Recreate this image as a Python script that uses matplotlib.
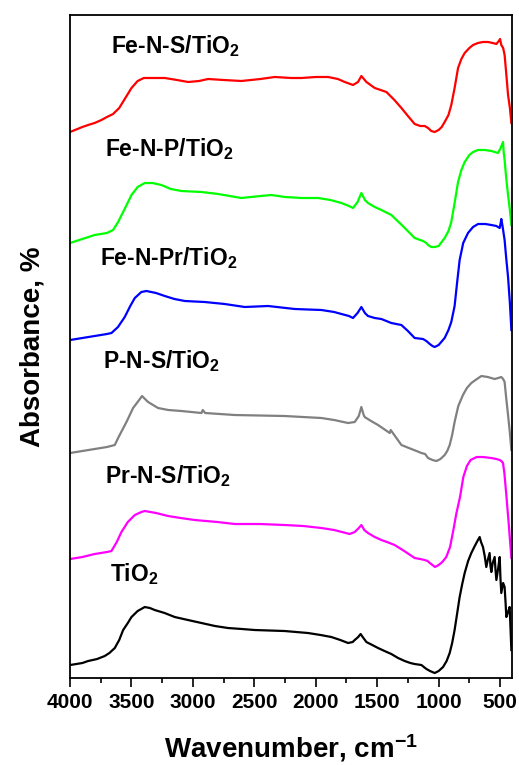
import numpy as np
import matplotlib.pyplot as plt

plt.rcParams['font.family'] = ['Liberation Sans', 'DejaVu Sans']
plt.rcParams['font.weight'] = 'bold'
plt.rcParams['mathtext.default'] = 'regular'

# Spectra (wavenumber in cm-1, stacked absorbance in a.u.)
wn_fens = [4000, 3900, 3853, 3800, 3745, 3700, 3650, 3600, 3550, 3500, 3450, 3400, 3329, 3229,
           3130, 3039, 2950, 2877, 2750, 2606, 2450, 2334, 2200, 2117, 2000, 1900, 1820, 1764,
           1697, 1656, 1629, 1588, 1520, 1425, 1360, 1303, 1250, 1195, 1150, 1113, 1086, 1060,
           1032, 1000, 975, 951, 920, 897, 870, 842, 815, 788, 750, 720, 680, 640, 598, 560,
           530, 510, 500, 490, 475, 463, 450, 435, 420, 408]
ab_fens = [546, 551, 553, 555, 558, 561, 564, 570, 580, 590, 597, 600, 600, 600,
           598, 596, 597, 599, 598, 597, 599, 601, 600, 600, 601, 601, 599, 596,
           593, 596, 602, 596, 590, 586, 578, 570, 562, 554, 552, 552, 550, 547,
           546, 548, 551, 556, 563, 573, 590, 610, 619, 625, 630, 633, 635, 636, 636, 635,
           634, 637, 639, 633, 630, 623, 605, 583, 570, 555]

wn_fenp = [4000, 3900, 3800, 3700, 3650, 3609, 3560, 3500, 3450, 3392, 3330, 3256, 3180, 3093,
           2930, 2795, 2606, 2450, 2361, 2250, 2117, 1981, 1880, 1791, 1730, 1697, 1660, 1629,
           1600, 1575, 1520, 1466, 1385, 1300, 1195, 1150, 1127, 1100, 1086, 1060, 1032, 1000,
           951, 920, 897, 870, 842, 815, 788, 750, 720, 680, 625, 570, 517, 495, 476, 470,
           463, 450, 435, 420, 408]
ab_fenp = [435, 439, 443, 445, 448, 456, 468, 483, 491, 495, 495, 493, 489, 487,
           486, 484, 480, 482, 483, 481, 480, 480, 478, 475, 472, 470, 476, 485,
           478, 475, 471, 468, 463, 453, 440, 438, 437, 435, 433, 431, 431, 432,
           440, 447, 456, 475, 496, 508, 516, 523, 526, 528, 528, 527, 525, 530, 536, 525,
           518, 500, 483, 468, 453]

wn_fenpr = [4000, 3900, 3800, 3700, 3663, 3610, 3555, 3510, 3473, 3420, 3378, 3300, 3229, 3150,
            3066, 2904, 2741, 2578, 2388, 2171, 1954, 1850, 1791, 1730, 1697, 1660, 1629, 1600,
            1575, 1520, 1466, 1385, 1303, 1250, 1195, 1127, 1100, 1072, 1050, 1032, 1000, 951,
            920, 897, 870, 850, 829, 800, 761, 720, 679, 620, 571, 530, 503, 495, 490, 480,
            463, 450, 435, 420, 408]
ab_fenpr = [338, 340, 342, 344, 345, 351, 361, 372, 380, 386, 387, 385, 382, 379,
            377, 376, 374, 371, 372, 369, 368, 366, 364, 362, 360, 365, 371, 365,
            362, 360, 359, 355, 353, 347, 340, 339, 337, 334, 332, 331, 333, 340,
            348, 356, 372, 395, 418, 435, 445, 451, 454, 454, 453, 452, 450, 455, 459, 452,
            438, 420, 401, 375, 348]

wn_pns = [4000, 3900, 3800, 3700, 3636, 3609, 3575, 3541, 3487, 3450, 3414, 3390, 3365, 3284,
          3200, 3093, 2930, 2920, 2900, 2660, 2253, 1954, 1850, 1737, 1683, 1650, 1629, 1610,
          1602, 1550, 1493, 1398, 1390, 1303, 1222, 1180, 1140, 1110, 1086, 1050, 1018, 985,
          951, 930, 910, 890, 870, 840, 802, 770, 734, 700, 652, 600, 544, 515, 490, 475,
          463, 450, 435, 420, 408]
ab_pns = [225, 227, 229, 231, 233, 240, 248, 256, 270, 276, 282, 279, 276, 270,
          268, 267, 265, 268, 265, 263, 262, 260, 258, 255, 256, 262, 271, 263,
          261, 257, 253, 245, 248, 233, 229, 227, 225, 224, 220, 218, 217, 219,
          223, 227, 233, 243, 256, 272, 283, 290, 295, 298, 302, 301, 299, 300, 301, 299,
          296, 280, 263, 245, 228]

wn_prns = [4000, 3900, 3800, 3700, 3663, 3620, 3582, 3530, 3473, 3420, 3392, 3300, 3202, 3100,
           2985, 2800, 2660, 2450, 2253, 2100, 1954, 1850, 1724, 1683, 1650, 1629, 1605, 1575,
           1520, 1466, 1420, 1358, 1280, 1195, 1150, 1113, 1090, 1072, 1050, 1030, 1000, 970,
           938, 907, 880, 855, 826, 799, 770, 740, 690, 640, 571, 530, 503, 490, 476, 465,
           449, 430, 408]
ab_prns = [119, 121, 124, 126, 127, 136, 146, 156, 163, 166, 167, 165, 162, 160,
           158, 156, 154, 154, 153, 152, 150, 148, 144, 146, 150, 153, 148, 145,
           141, 138, 136, 133, 127, 120, 119, 118, 117, 115, 113, 111, 113, 116,
           121, 131, 148, 165, 181, 201, 212, 218, 221, 221, 220, 219, 218, 217, 215, 205,
           183, 155, 120]

wn_tio2 = [4000, 3900, 3853, 3780, 3718, 3680, 3636, 3600, 3568, 3530, 3500, 3450, 3392, 3350,
           3311, 3230, 3148, 3040, 2930, 2820, 2714, 2600, 2497, 2253, 2063, 1960, 1873, 1800,
           1737, 1700, 1683, 1655, 1635, 1612, 1588, 1540, 1493, 1440, 1385, 1330, 1276, 1230,
           1195, 1140, 1120, 1099, 1070, 1032, 1000, 964, 935, 910, 890, 870, 850, 829,
           808, 788, 760, 734, 710, 693, 680, 666, 655, 639, 625, 612, 600, 585, 578, 571,
           560, 544, 537, 530, 515, 503, 497, 490, 475, 463, 455, 449, 435, 422, 415, 408]
ab_tio2 = [13, 15, 17, 19, 22, 25, 30, 38, 48, 55, 61, 67, 71, 70,
           68, 65, 61, 58, 55, 52, 50, 49, 48, 47, 45, 43, 41, 38,
           35, 36, 38, 41, 44, 40, 36, 33, 30, 27, 24, 20, 17, 15,
           14, 13, 11, 9, 7, 5, 7, 11, 17, 25, 35, 48, 64, 81,
           94, 105, 117, 125, 131, 135, 138, 141, 136, 131, 122, 111, 118, 125, 112, 106,
           115, 121, 108, 98, 110, 121, 100, 85, 95, 91, 75, 61, 66, 71, 50, 28]

names = [r'Fe-N-S/TiO$_2$', r'Fe-N-P/TiO$_2$', r'Fe-N-Pr/TiO$_2$',
         r'P-N-S/TiO$_2$', r'Pr-N-S/TiO$_2$', r'TiO$_2$']
colors = ['#ff0000', '#00ff00', '#0000ff', '#808080', '#ff00ff', '#000000']
spectra = [(wn_fens, ab_fens), (wn_fenp, ab_fenp), (wn_fenpr, ab_fenpr),
           (wn_pns, ab_pns), (wn_prns, ab_prns), (wn_tio2, ab_tio2)]
label_x = [3669, 3713, 3753, 3731, 3718, 3677]
label_y = [625, 522, 413, 310, 195, 97]

fig = plt.figure(figsize=(5.19, 7.65), dpi=100)
ax = fig.add_axes([0.135, 0.1137, 0.851, 0.8667])

for (w, a), c in zip(spectra, colors):
    ax.plot(w, a, color=c, linewidth=1.6)

for n, lx, ly in zip(names, label_x, label_y):
    ax.text(lx, ly, n, fontsize=16.5, fontweight='bold', ha='left', va='baseline')

ax.set_xlim(4000, 405)
ax.set_ylim(0, 663)
ax.set_xticks([4000, 3500, 3000, 2500, 2000, 1500, 1000, 500])
ax.set_xticks(np.arange(3750, 400, -500), minor=True)
ax.set_yticks([])
ax.tick_params(axis='x', which='major', direction='out', length=6.5, width=1.2,
               labelsize=15, pad=4)
ax.tick_params(axis='x', which='minor', direction='out', length=3.7, width=1.2)
for lbl in ax.get_xticklabels():
    lbl.set_fontweight('bold')
for s in ax.spines.values():
    s.set_linewidth(1.3)

ax.set_xlabel('Wavenumber, cm$^{-1}$', fontsize=20, fontweight='bold', labelpad=15)
ax.set_ylabel('Absorbance, %', fontsize=20, fontweight='bold', labelpad=18)

fig.savefig('out.png', dpi=100)
